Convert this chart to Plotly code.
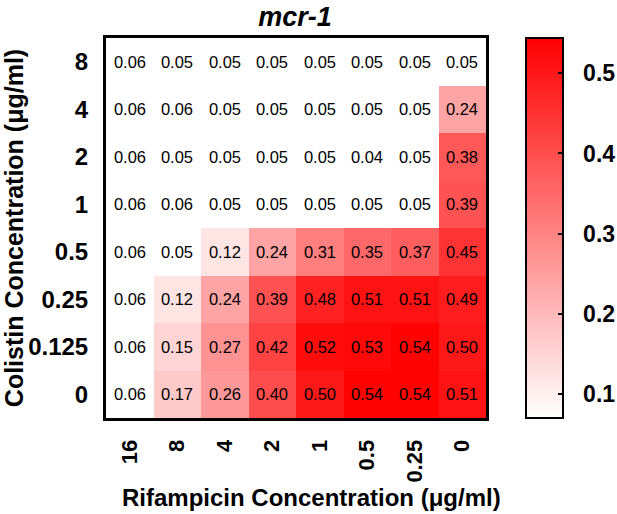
import plotly.graph_objects as go

# checkerboard: rows are colistin (top to bottom), columns are rifampicin
rifampicin_labels = ['16', '8', '4', '2', '1', '0.5', '0.25', '0']
colistin_labels = ['8', '4', '2', '1', '0.5', '0.25', '0.125', '0']

od_values = [
    [0.06, 0.05, 0.05, 0.05, 0.05, 0.05, 0.05, 0.05],
    [0.06, 0.06, 0.05, 0.05, 0.05, 0.05, 0.05, 0.24],
    [0.06, 0.05, 0.05, 0.05, 0.05, 0.04, 0.05, 0.38],
    [0.06, 0.06, 0.05, 0.05, 0.05, 0.05, 0.05, 0.39],
    [0.06, 0.05, 0.12, 0.24, 0.31, 0.35, 0.37, 0.45],
    [0.06, 0.12, 0.24, 0.39, 0.48, 0.51, 0.51, 0.49],
    [0.06, 0.15, 0.27, 0.42, 0.52, 0.53, 0.54, 0.50],
    [0.06, 0.17, 0.26, 0.40, 0.50, 0.54, 0.54, 0.51],
]

colorbar_ticks = [0.1, 0.2, 0.3, 0.4, 0.5]

font_name = 'Liberation Sans, Arial, sans-serif'
red_scale = [[0, '#ffffff'], [1, '#ff0000']]


def colorbar_style(**extra):
    style = dict(
        x=1.105, xanchor='left', xpad=0,
        y=0.5, yanchor='middle', len=1, lenmode='fraction', ypad=0,
        thickness=37,
        outlinewidth=2, outlinecolor='black',
        tickvals=colorbar_ticks,
        ticktext=[f'{t:.1f}' for t in colorbar_ticks],
        tickfont=dict(size=23, color='black', family=font_name, weight='bold'),
    )
    style.update(extra)
    return style


fig = go.Figure()
# first colorbar only carries the labels (pushed out by invisible ticks)
fig.add_trace(go.Heatmap(
    x=rifampicin_labels,
    y=colistin_labels,
    z=od_values,
    coloraxis='coloraxis',
    hoverinfo='skip',
))
# same cells again on top, with the text and the inside tick marks
fig.add_trace(go.Heatmap(
    x=rifampicin_labels,
    y=colistin_labels,
    z=od_values,
    coloraxis='coloraxis2',
    texttemplate='%{z:.2f}',
    textfont=dict(size=16.5, color='black', family=font_name),
))

fig.update_layout(
    width=617, height=514,
    margin=dict(l=106, r=131, t=38, b=96, autoexpand=False),
    paper_bgcolor='white',
    plot_bgcolor='white',
    font=dict(family=font_name, color='black'),
    coloraxis=dict(
        cmin=0.07, cmax=0.544, colorscale=red_scale,
        colorbar=colorbar_style(ticks='outside', ticklen=15,
                                tickcolor='rgba(0,0,0,0)'),
    ),
    coloraxis2=dict(
        cmin=0.07, cmax=0.544, colorscale=red_scale,
        colorbar=colorbar_style(ticks='inside', ticklen=6, tickwidth=2,
                                tickcolor='black', showticklabels=False),
    ),
    title=dict(
        text='<b><i>mcr-1</i></b>',
        x=295 / 617, xanchor='center',
        y=1 - 17 / 514, yanchor='middle',
        font=dict(size=27, color='black', family=font_name),
    ),
    xaxis=dict(
        type='category',
        automargin=False,
        showline=True, linewidth=3, linecolor='black', mirror=True,
        ticks='outside', ticklen=10, tickcolor='rgba(0,0,0,0)',
        tickangle=-90,
        tickfont=dict(size=22, family=font_name, weight='bold'),
        showgrid=False, zeroline=False,
    ),
    yaxis=dict(
        type='category',
        automargin=False,
        autorange='reversed',
        showline=True, linewidth=3, linecolor='black', mirror=True,
        ticks='outside', ticklen=10, tickcolor='rgba(0,0,0,0)',
        tickfont=dict(size=24, family=font_name, weight='bold'),
        title=dict(text='<b>Colistin Concentration (μg/ml)</b>',
                   font=dict(size=25, family=font_name), standoff=2),
        showgrid=False, zeroline=False,
    ),
)

# x title sits a little right of the plot centre in the original
fig.add_annotation(
    text='<b>Rifampicin Concentration (μg/ml)</b>',
    xref='paper', yref='paper',
    x=0.542, y=-0.208, xanchor='center', yanchor='middle',
    showarrow=False,
    font=dict(size=24, family=font_name, color='black'),
)

# drop the browser's default body margin so the figure sits at the page corner
fig.write_html('out.html', config={'displayModeBar': False},
               post_script="document.body.style.margin='0';")
